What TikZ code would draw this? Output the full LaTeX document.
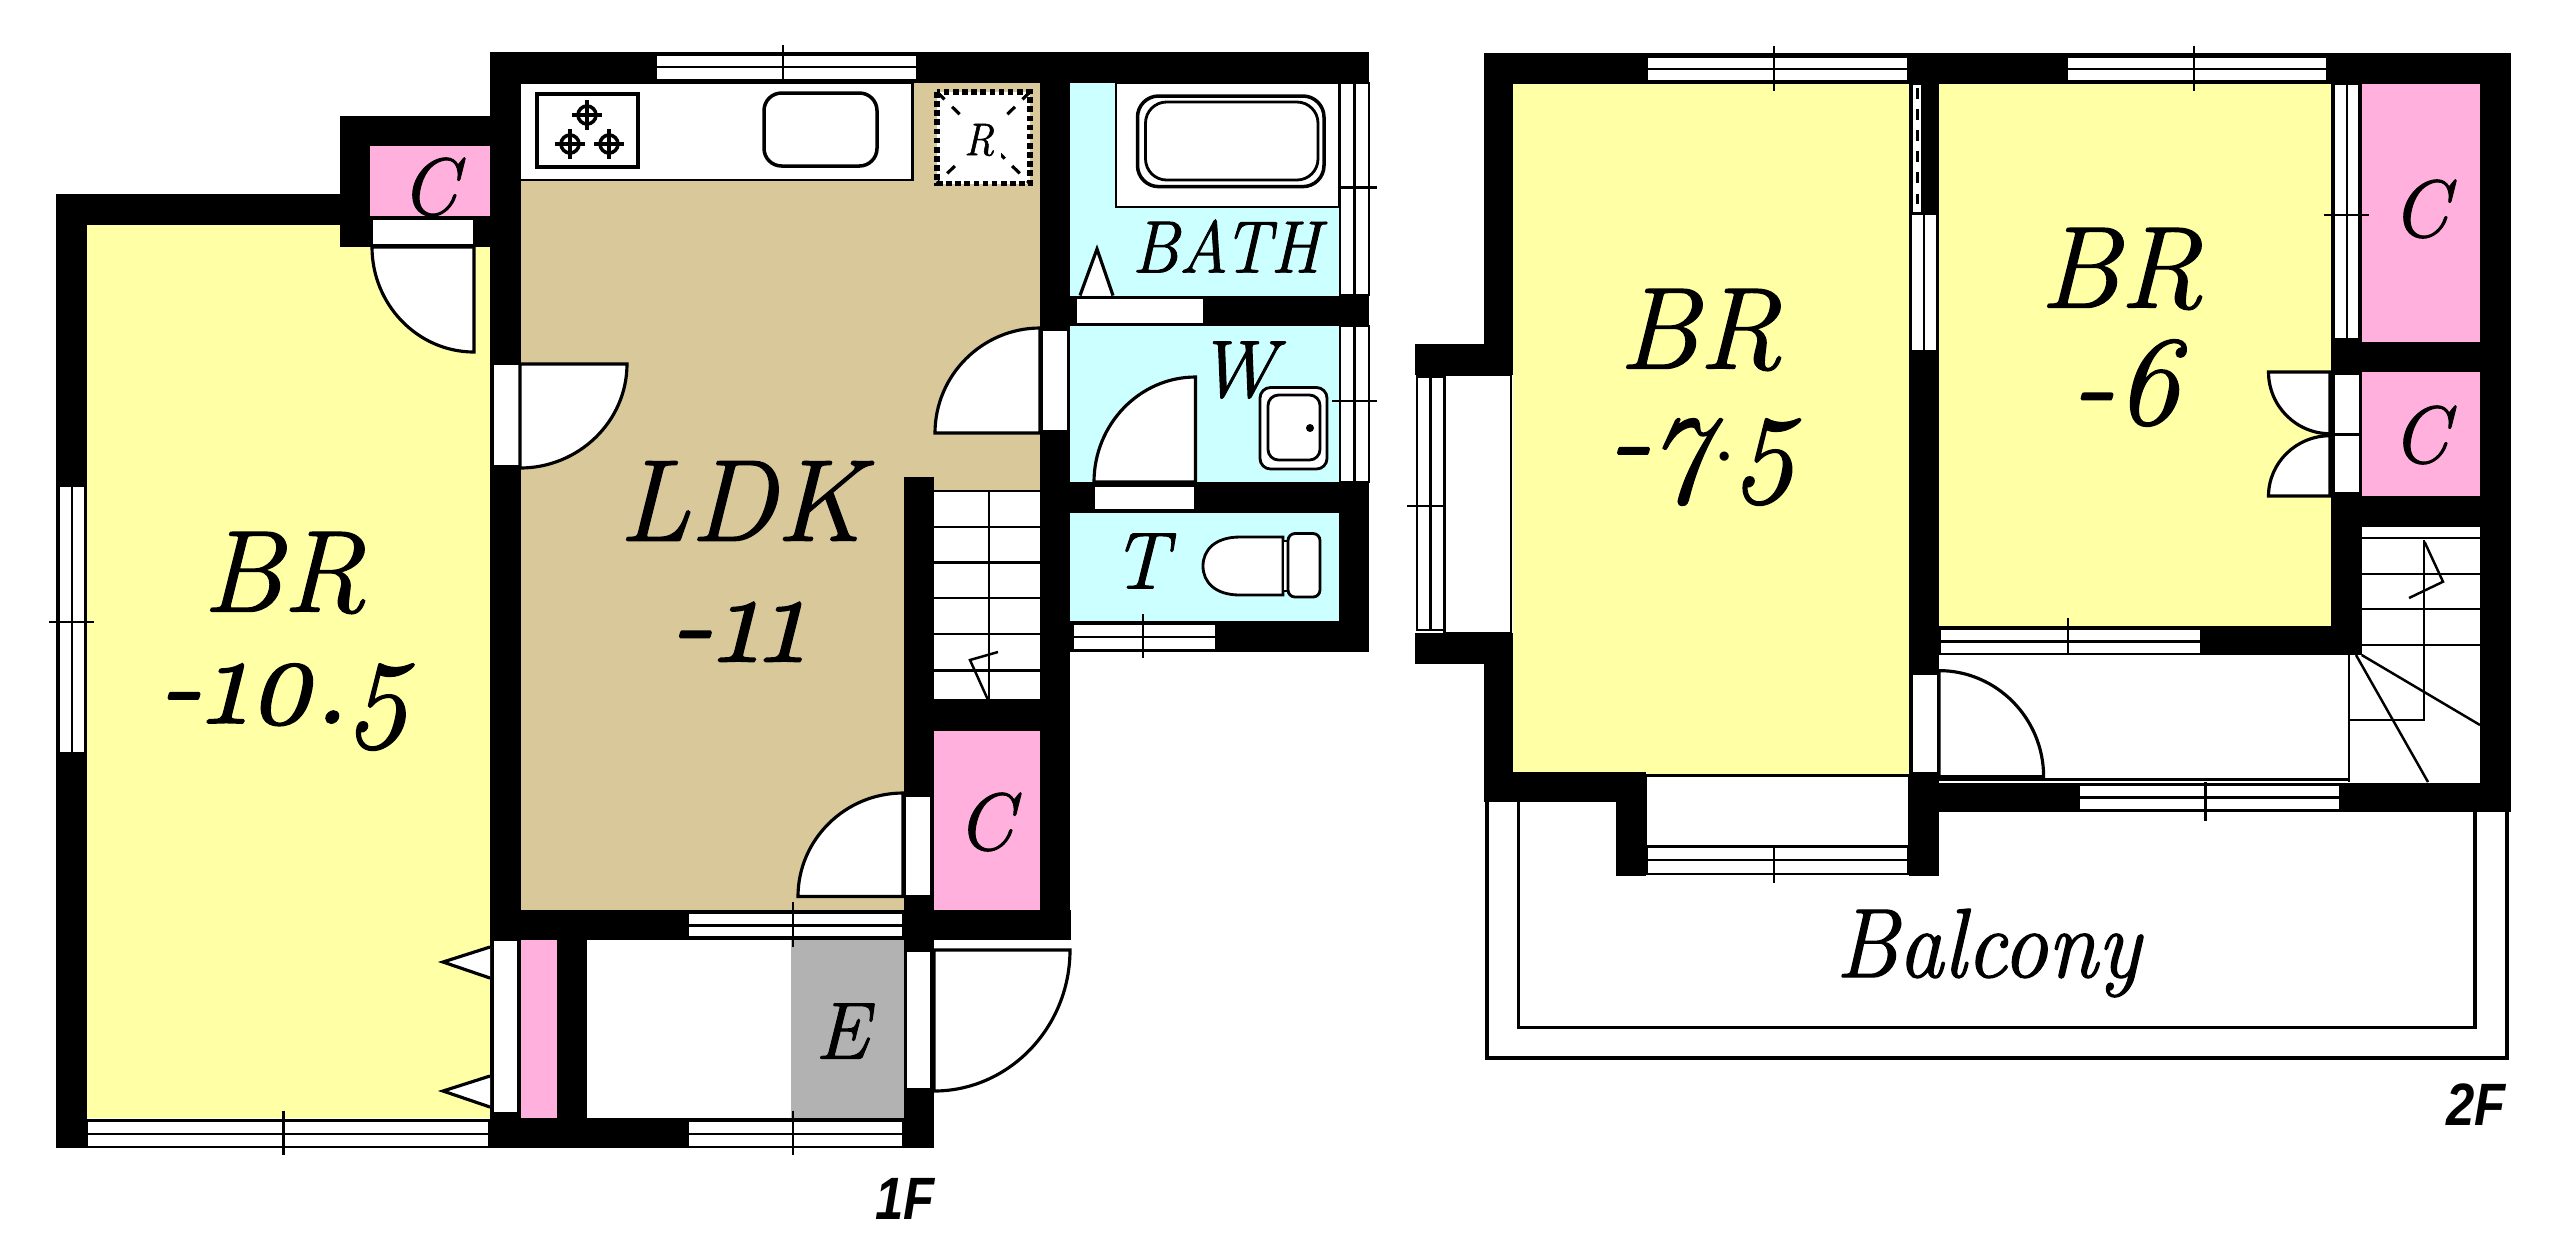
\documentclass[tikz,border=0pt]{standalone}
\usepackage{fontspec}
\newfontfamily\planfont{Latin Modern Roman}[Numbers=OldStyle, FakeBold=1.2]
\newfontfamily\narrowfont{Latin Modern Roman}[Numbers=OldStyle, FakeStretch=.92, FakeBold=1.2]
\newfontfamily\floorfont{Liberation Sans}[FakeStretch=.85]
\definecolor{bedyellow}{HTML}{FFFFA6}
\definecolor{ldktan}{HTML}{D9C89A}
\definecolor{wetcyan}{HTML}{CCFFFF}
\definecolor{closetpink}{HTML}{FFB0DC}
\definecolor{entrygray}{HTML}{B2B2B2}
\begin{document}
\begin{tikzpicture}[x=.01cm, y=-.01cm, thin/.style={line width=.7pt}, door/.style={fill=white, draw=black, line width=.9pt},
    pane/.style={fill=white, draw=black, line width=.8pt}, wall/.style={fill=black},
    big/.style={inner sep=0, font=\planfont\itshape\fontsize{33}{36}\selectfont},
    area/.style={inner sep=0, font=\planfont\itshape\fontsize{36}{38}\selectfont},
    mid/.style={inner sep=0, font=\narrowfont\itshape\fontsize{28}{30}\selectfont},
    letter/.style={inner sep=0, font=\planfont\itshape\fontsize{23}{25}\selectfont},
    small/.style={inner sep=0, font=\narrowfont\itshape\fontsize{21}{24}\selectfont},
    floorname/.style={inner sep=0, font=\floorfont\bfseries\itshape\fontsize{17}{19}\selectfont}]
    \useasboundingbox (0,0) rectangle (2560,1244);

    % rooms
    \fill[bedyellow] (87,224) rectangle (490,1117.5);
    \fill[ldktan] (520,83) rectangle (1040,910);
    \fill[wetcyan] (1070,83) rectangle (1339,295.5);
    \fill[wetcyan] (1070,326) rectangle (1339,482);
    \fill[wetcyan] (1070,512.5) rectangle (1339,621);
    \fill[closetpink] (370,146) rectangle (490,216);
    \fill[closetpink] (934,730) rectangle (1040,910);
    \fill[closetpink] (521,940) rectangle (557,1117.5);
    \fill[entrygray] (790.6,940) rectangle (903.5,1117.5);
    \fill[bedyellow] (1513,84) rectangle (1909,776);
    \fill[bedyellow] (1939,84) rectangle (2331,626);
    \fill[closetpink] (2361,84) rectangle (2480,342);
    \fill[closetpink] (2361,372) rectangle (2480,496);

    % walls
    \foreach \xa/\ya/\xb/\yb in {56/194/370/224.5, 56/194/87/1147.5, 340/116/370/247, 340/116/490/146, 370/216/490/247,
        490/52/521/1147.5, 490/52/1369/83, 1040/83/1070/940, 1040/295.5/1369/326, 1040/482/1369/512.5, 1339/83/1369/652,
        1070/621/1369/652, 903.5/477/934/1147.5, 903.5/700/1070/730.6, 490/910/1071/940.4, 557/940/587/1117.5, 490/1117.5/934/1147.5,
        1483.6/53/2510.5/84, 1483.6/53/1513/375, 1483.6/633/1513/802, 1415/344/1513/375, 1415/633/1513/663.6,
        1483.6/771.7/1645.6/802, 1616/771.7/1645.6/876, 1909/84/1939/876, 2480/53/2510.5/812, 2330.7/84/2361.7/655,
        2330.7/341.6/2480/372, 2330.7/496/2480/526.5, 1939/625.5/2361.7/655, 1909/782.7/2510.5/812}
        \fill[wall] (\xa,\ya) rectangle (\xb,\yb);

    % windows, along x then along y
    \foreach \xa/\xb/\ya/\yb/\xt/\ta/\tb in {656/917/54.5/80/783/45/90, 1073/1216/624/650/1143/614/658, 688/903/913/937.6/793/902/947,
        87/489/1120.7/1147/283.4/1110.5/1155, 688/903/1120.7/1147/793/1110.5/1155,
        1647/1908/57/81/1774/45.6/91, 2066.6/2327/57/81/2194/45.6/91, 1647/1908/846.4/874/1774/838/883,
        1940/2201/629/654/2068/618/663.6, 2078.4/2340/785/810/2205.6/774.5/820.5}{
        \filldraw[pane] (\xa,\ya) rectangle (\xb,\yb);
        \draw[thin] (\xa,{(\ya+\yb)/2}) -- (\xb,{(\ya+\yb)/2});
        \draw[thin] (\xt,\ta) -- (\xt,\tb);
    }
    \foreach \xa/\xb/\ya/\yb/\yt/\ta/\tb in {1340/1369/83/295/187.5/1332/1377, 1340/1369/326/482/401/1332/1377, 59/85/486/753/622/49/94,
        2334/2359.5/84/339/215/2324/2369, 1911/1937/213.5/351/-100/0/0, 1417/1444.4/376.5/630/506/1407.4/1453}{
        \filldraw[pane] (\xa,\ya) rectangle (\xb,\yb);
        \draw[thin] ({(\xa+\xb)/2},\ya) -- ({(\xa+\xb)/2},\yb);
        \draw[thin] (\ta,\yt) -- (\tb,\yt);
    }
    \filldraw[pane] (1912,84) rectangle (1922,213);
    \draw[line width=.85pt, dashed] (1917,88) -- (1917,213);

    % door sills
    \foreach \xa/\ya/\xb/\yb in {372/219/474/245, 493/364/520/466, 1042/330/1068/431, 1076/298/1204/324, 1094/486/1195.5/510,
        905/796/931/896.5, 493/940/518.4/1113.7, 905.6/951/931.6/1089.5, 2334/374/2360/434.5, 2334/434.5/2360/493, 1912/674/1938.6/773.7}
        \filldraw[pane] (\xa,\ya) rectangle (\xb,\yb);

    % other white floors and the balcony
    \filldraw[pane] (1444.4,375) rectangle (1511,633);
    \filldraw[pane] (1645.6,775.8) rectangle (1909,846.4);
    \fill[white] (1939,655) rectangle (2480,782);
    \draw[thin] (1939,779.5) -- (2349,779.5);
    \draw[line width=.9pt] (1487,802) |- (2507,1058) -- (2507,812);
    \draw[line width=.9pt] (1518.4,802) |- (2475,1027.5) -- (2475,812);

    % doors
    \foreach \hx/\hy/\ax/\ay/\bx/\by in {474/247/474/352/372/247, 520/364/627/364/520/468, 1040/433/935/433/1040/328,
        1195.5/482/1195.5/377/1094/482, 903/896.5/798/896.5/903/793, 934/950/1070/950/934/1091,
        1939/776.6/2043.6/776.6/1939/670.6, 2330/372/2268.5/372/2330/433.7, 2330/496/2268.5/496/2330/435.7}
        \draw[door] (\ax,\ay) -- (\hx,\hy) -- (\bx,\by)
            .. controls ({\bx+.55*(\ax-\hx)},{\by+.55*(\ay-\hy)}) and ({\ax+.55*(\bx-\hx)},{\ay+.55*(\by-\hy)}) .. cycle;
    \foreach \xa/\ya in {443/962, 443/1091}
        \draw[door] (490,\ya-15) -- (\xa,\ya) -- (490,\ya+16);
    \draw[door] (1080,295.5) -- (1097,249) -- (1113,295.5);

    % kitchen
    \filldraw[pane] (520,83) rectangle (912.5,180);
    \draw[pane, line width=1pt] (537,94) rectangle (638,167);
    \draw[pane, line width=1pt, rounded corners=5] (764,93) rectangle (877,166);
    \foreach \bx/\by in {587/115, 570/144, 609/144}{
        \draw[line width=1pt] (\bx,\by) circle[radius=9];
        \draw[line width=1pt] (\bx-15,\by) -- (\bx+15,\by) (\bx,\by-15) -- (\bx,\by+15);
    }
    \filldraw[fill=white, draw=black, line width=1.6pt, densely dotted] (937,92) rectangle (1030,183.5);
    \draw[line width=.9pt, dashed] (937,92) -- (1030,183.5) (1030,92) -- (937,183.5);
    \node(fridge)[small, font=\narrowfont\itshape\fontsize{13}{15}\selectfont, fill=white, inner sep=2pt] at (979,140) {R};

    % bath, basin, toilet
    \filldraw[pane] (1116,83) rectangle (1339,207);
    \draw[pane, line width=1pt, rounded corners=6] (1137.5,96) rectangle (1324,186.6);
    \draw[pane, rounded corners=6] (1145.5,102) rectangle (1318,180);
    \filldraw[pane, rounded corners=3] (1260,387.5) rectangle (1327,469);
    \draw[pane, rounded corners=3] (1268,395) rectangle (1320,460);
    \fill (1310,428) circle[radius=4];
    \filldraw[pane] (1283,537) -- (1240,537) .. controls (1215,537) and (1203,550) .. (1203,566)
        .. controls (1203,582) and (1215,595) .. (1240,595) -- (1283,595) -- cycle;
    \draw[pane] (1283,541) rectangle (1288,591);
    \draw[pane, rounded corners=2] (1288,533.5) rectangle (1320,597);

    % stairs
    \fill[white] (934,491) rectangle (1040,700);
    \foreach \ty in {491, 527, 562.5, 598, 634, 670.6, 700}
        \draw[thin] (934,\ty) -- (1040,\ty);
    \draw[thin] (989,491) -- (989,700);
    \draw[thin] (998,652) -- (970,660) -- (988,700);
    \fill[white] (2361.7,526.5) rectangle (2480,782);
    \foreach \ty in {538, 574, 609, 645}
        \draw[thin] (2361.7,\ty) -- (2480,\ty);
    \draw[thin] (2424,540) -- (2424,720) -- (2349,720);
    \draw[thin] (2349,655) -- (2349,782);
    \draw[thin] (2356,655) -- (2428,782);
    \draw[thin] (2361.7,655) -- (2480,725);
    \draw[thin] (2424.6,542) -- (2443,581.7) -- (2409,598);

    % labels
    \node(br-a)[big] at (284,573) {BR};
    \node(br-a-size)[area] at (285,707) {-10.5};
    \node(ldk)[big] at (741,501) {LDK};
    \node(ldk-size)[area] at (737,632) {-11};
    \node(closet-a)[letter] at (429,187) {C};
    \node(closet-b)[letter] at (985,822) {C};
    \node(entry)[letter] at (842,1031) {E};
    \node(bath)[small] at (1226,246) {BATH};
    \node(wash)[letter] at (1236,370) {W};
    \node(toilet)[letter] at (1140,561) {T};
    \node(br-b)[big] at (1700,330) {BR};
    \node(br-b-size)[area] at (1703,462) {-7$\cdot$5};
    \node(br-c)[big] at (2121,269) {BR};
    \node(br-c-size)[area] at (2125,383) {-6};
    \node(closet-c)[letter] at (2420,209) {C};
    \node(closet-d)[letter] at (2420,435) {C};
    \node(balcony)[mid] at (1988,953) {Balcony};
    \node(floor-one)[floorname] at (905,1199) {1F};
    \node(floor-two)[floorname] at (2476,1105) {2F};
\end{tikzpicture}
\end{document}
